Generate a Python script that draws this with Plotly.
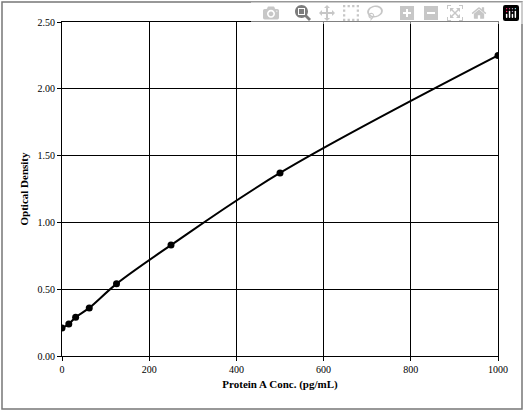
import plotly.graph_objects as go

conc = [0, 15.6, 31.25, 62.5, 125, 250, 500, 1000]
od = [0.21, 0.24, 0.29, 0.36, 0.54, 0.83, 1.37, 2.25]
xticks = [0, 200, 400, 600, 800, 1000]
yticks = [0, 0.5, 1.0, 1.5, 2.0, 2.5]

fig = go.Figure(go.Scatter(x=conc, y=od, mode="lines+markers", line=dict(color="black", width=2, shape="spline"),
                           marker=dict(color="black", size=7)))
W, H, l, r, t, b = 525, 412, 62, 27, 22, 56
pw, ph = W - l - r, H - t - b
fig.add_shape(type="rect", xref="paper", yref="paper",
              x0=-(l - 2) / pw, x1=1 + (r - 3) / pw, y0=-(b - 3) / ph, y1=1 + (t - 2) / ph,
              line=dict(color="#777", width=1.5))
ax = dict(showline=True, linecolor="black", mirror=True, gridcolor="black", gridwidth=1,
          ticks="outside", ticklen=4, tickcolor="black", zeroline=False,
          tickfont=dict(size=10, family="Liberation Serif", color="black"))
fig.update_xaxes(range=[0, 1000], tickvals=xticks, title=dict(text="<b>Protein A Conc. (pg/mL)</b>", standoff=6,
                 font=dict(size=11, family="Liberation Serif", color="black")), **ax)
fig.update_yaxes(range=[0, 2.5], tickvals=yticks, tickformat=".2f",
                 title=dict(text="<b>Optical Density</b>", standoff=6,
                 font=dict(size=11, family="Liberation Serif", color="black")), **ax)
fig.update_layout(width=W, height=H, margin=dict(l=l, r=r, t=t, b=b), plot_bgcolor="white",
                  paper_bgcolor="white", showlegend=False)
fig.write_html("out.html", post_script="document.body.style.margin='0';document.body.style.overflow='hidden';")
